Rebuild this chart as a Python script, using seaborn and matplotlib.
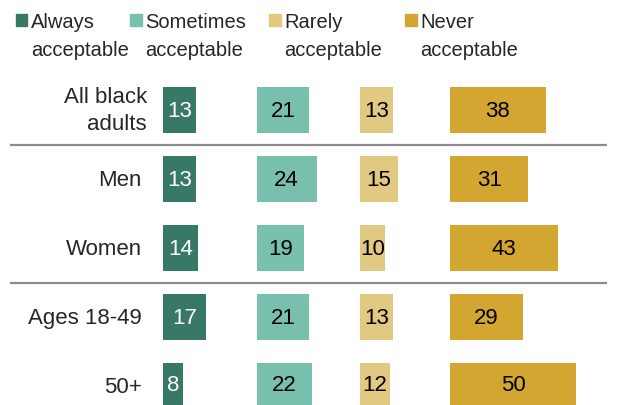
import matplotlib
matplotlib.use("Agg")
import matplotlib.pyplot as plt
import matplotlib.transforms as mtransforms
from matplotlib.patches import Rectangle
import pandas as pd
import seaborn as sns

# data
groups = ["All black\nadults", "Men", "Women", "Ages 18-49", "50+"]
series = ["Always\nacceptable", "Sometimes\nacceptable", "Rarely\nacceptable", "Never\nacceptable"]
always = [13, 13, 14, 17, 8]
sometimes = [21, 24, 19, 21, 22]
rarely = [13, 15, 10, 13, 12]
never = [38, 31, 43, 29, 50]

colors = ["#387867", "#78bfae", "#e2c982", "#d3a631"]
text_colors = ["white", "black", "black", "black"]

# layout in pixels
W, H = 617, 406
PX_PER_UNIT = 2.52
ROW_PX = 69
FIRST_ROW_PX = 111.3
col_left = [163, 256.5, 360, 450]
legend_left = [15.5, 130, 269, 405]
label_right = [147, 142, 142, 142, 142]

sns.set_style("white")
plt.rcParams["font.family"] = ["Liberation Sans", "DejaVu Sans"]

fig = plt.figure(figsize=(W / 100, H / 100), dpi=100)
ylim = ((H - FIRST_ROW_PX) / ROW_PX, -FIRST_ROW_PX / ROW_PX)

# background axes: row labels and separators
bg = fig.add_axes([0, 0, 1, 1])
bg.set_xlim(0, W)
bg.set_ylim(*ylim)
bg.axis("off")
for i, g in enumerate(groups):
    bg.text(label_right[i], i, g, ha="right", va="center", fontsize=16, linespacing=1.4)
for y in (0.5, 2.5):
    bg.plot([10, 607], [y, y], color="#8c8c8c", lw=1.6, solid_capstyle="butt")

# one axes per response column
for j, vals in enumerate([always, sometimes, rarely, never]):
    df = pd.DataFrame({"group": groups, "value": vals})
    ax = fig.add_axes([col_left[j] / W, 0, (W - col_left[j]) / W, 1])
    sns.barplot(data=df, x="value", y="group", orient="h", color=colors[j],
                saturation=1, width=0.667, linewidth=0, ax=ax)
    ax.set_xlim(0, (W - col_left[j]) / PX_PER_UNIT)
    ax.set_ylim(*ylim)
    ax.axis("off")
    ax.patch.set_alpha(0)
    ax.bar_label(ax.containers[0], label_type="center", color=text_colors[j], fontsize=16)

# legend drawn in pixel coordinates
px = mtransforms.Affine2D().scale(1 / W, -1 / H).translate(0, 1) + fig.transFigure
for j in range(4):
    fig.add_artist(Rectangle((legend_left[j], 15.3), 11.5, 12, color=colors[j], transform=px))
    fig.text(legend_left[j] + 15.2, 12.5, series[j], transform=px, va="top",
             fontsize=14.5, linespacing=1.65)

fig.savefig("out.png", dpi=100)
